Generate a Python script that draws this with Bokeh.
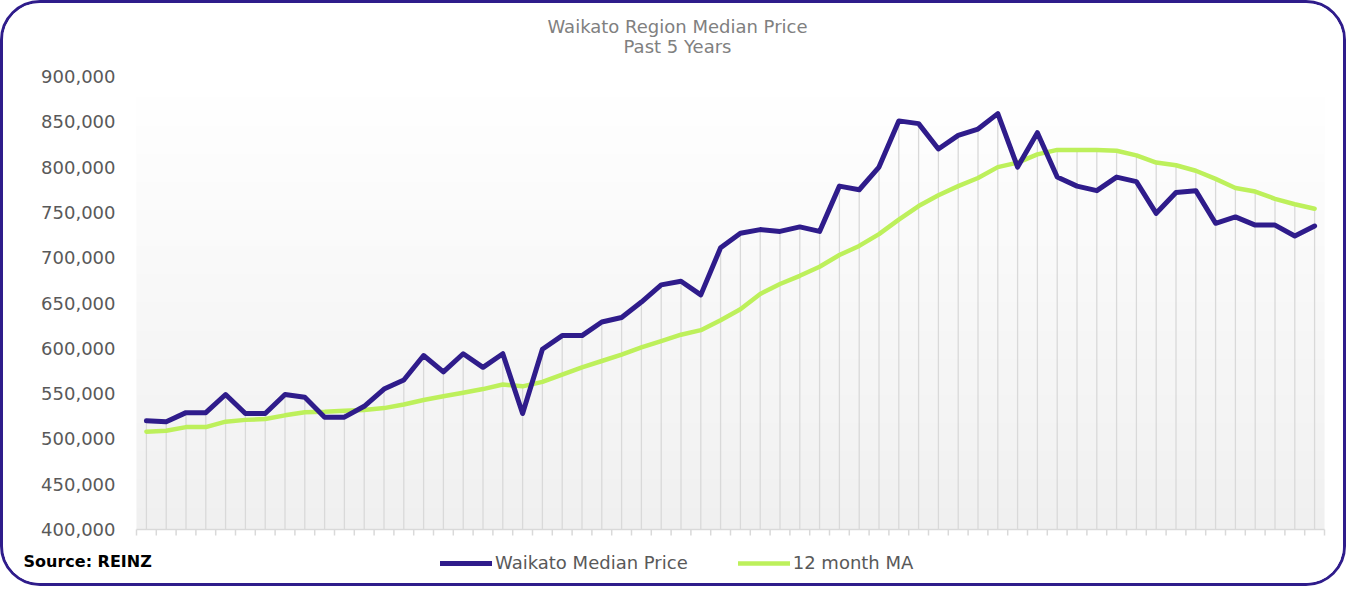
import numpy as np
from bokeh.plotting import figure
from bokeh.models import Range1d, Legend, LegendItem, Label, ColumnDataSource
from bokeh.embed import file_html
from bokeh.resources import INLINE

# ---- data (NZD) ----
median_price = [520000, 519000, 529000, 529000, 549000, 528000, 528000, 549000, 546000, 524000, 524000, 536000,
                555000, 565000, 592000, 574000, 594000, 579000, 594000, 528000, 599000, 614000, 614000, 629000,
                634000, 651000, 670000, 674000, 659000, 711000, 727000, 731000, 729000, 734000, 729000, 779000,
                775000, 800000, 851000, 848000, 820000, 835000, 842000, 859000, 800000, 838000, 789000, 779000,
                774000, 789000, 784000, 749000, 772000, 774000, 738000, 745000, 736000, 736000, 724000, 735000]
ma12 = [508000, 509000, 513000, 513000, 519000, 521000, 522000, 526000, 529500, 530000, 531000, 532000,
        534000, 538000, 543000, 547000, 551000, 555000, 560000, 558000, 563000, 571000, 579000, 586000,
        593000, 601000, 608000, 615000, 620000, 631000, 643000, 660000, 671000, 680000, 690000, 703000,
        713000, 726000, 742000, 757000, 769000, 779000, 788000, 800000, 805000, 814000, 819000, 819000,
        819000, 818000, 813000, 805000, 802000, 796000, 787000, 777000, 773000, 765000, 759000, 754000]
y_ticks = [400000, 450000, 500000, 550000, 600000, 650000, 700000, 750000, 800000, 850000, 900000]
y_tick_labels = ["400,000", "450,000", "500,000", "550,000", "600,000", "650,000",
                 "700,000", "750,000", "800,000", "850,000", "900,000"]
series_names = ["Waikato Median Price", "12 month MA"]
title_lines = ["Waikato Region Median Price", "Past 5 Years"]
source_text = "Source: REINZ"

n = len(median_price)
idx = list(range(n))
top = [max(a, b) for a, b in zip(median_price, ma12)]

PURPLE = "#2f1c8b"
GREEN = "#bdf05b"
FONT = "DejaVu Sans"

# canvas geometry (px): plot area box inside the card
W, H = 1346, 586
PL, PR, PT, PB = 133, 1321, 73, 526
x_lo, x_hi = -0.5, n - 0.5
y_lo, y_hi = y_ticks[0], y_ticks[-1]
ux = (x_hi - x_lo) / (PR - PL)          # data units per px
uy = (y_hi - y_lo) / (PB - PT)

p = figure(width=W, height=H, output_backend="svg", toolbar_location=None,
           x_range=Range1d(x_lo - PL * ux, x_hi + (W - PR) * ux),
           y_range=Range1d(y_lo - (H - PB) * uy, y_hi + PT * uy),
           x_axis_location=None, y_axis_location=None,
           min_border_left=0, min_border_right=0, min_border_top=0, min_border_bottom=0)
p.outline_line_color = None
p.background_fill_color = "white"
p.border_fill_color = "white"
p.xgrid.visible = False
p.ygrid.visible = False
p.styles = {"border": "3px solid " + PURPLE, "border-radius": "40px", "box-sizing": "border-box",
            "overflow": "hidden"}

# gradient plot-area background
rows = 64
img = np.zeros((rows, 1), dtype=np.uint32)
view = img.view(dtype=np.uint8).reshape((rows, 1, 4))
for r in range(rows):
    t = r / (rows - 1)
    c = int(round(240 + (255 - 240) * t))
    view[r, 0, :] = [c, c, c, 255]
p.image_rgba(image=[img], x=x_lo, y=y_lo, dw=x_hi - x_lo, dh=y_hi - y_lo)

# category axis: baseline + boundary ticks
bounds = [i - 0.5 for i in range(n + 1)]
p.segment(x0=bounds, y0=[y_lo] * len(bounds), x1=bounds, y1=[y_lo - 6 * uy] * len(bounds),
          line_color="#d9d9d9", line_width=1.5)
p.segment(x0=[x_lo], y0=[y_lo], x1=[x_hi], y1=[y_lo], line_color="#d9d9d9", line_width=1.5)

# value axis labels
p.text(x=[x_lo] * len(y_ticks), y=y_ticks, text=y_tick_labels, x_offset=-21,
       text_align="right", text_baseline="middle", text_font={"value": FONT},
       text_font_size="18px", text_color="#595959")

# drop lines
src = ColumnDataSource(dict(x=idx, y0=[y_lo] * n, y1=top, a=median_price, b=ma12))
p.segment(x0="x", y0="y0", x1="x", y1="y1", source=src, line_color="#d9d9d9", line_width=1.3)

r_ma = p.line("x", "b", source=src, line_color=GREEN, line_width=4.5, line_cap="round", line_join="round")
r_med = p.line("x", "a", source=src, line_color=PURPLE, line_width=5, line_cap="round", line_join="round")

# legend
legend = Legend(items=[LegendItem(label=series_names[0], renderers=[r_med]),
                       LegendItem(label=series_names[1], renderers=[r_ma])],
                orientation="horizontal", location=(437, 16),
                padding=0, margin=0, spacing=50, glyph_width=52, glyph_height=20,
                label_standoff=3, border_line_color=None, background_fill_alpha=0,
                label_text_font=FONT, label_text_font_size="18px", label_text_color="#595959")
p.add_layout(legend, "center")

# title & source (screen px from the canvas' bottom-left)
p.add_layout(Label(x=674, y=H - 23, x_units="screen", y_units="screen", text=title_lines[0],
                   text_align="center", text_baseline="middle", text_font=FONT,
                   text_font_size="18px", text_color="#808080"))
p.add_layout(Label(x=674, y=H - 43, x_units="screen", y_units="screen", text=title_lines[1],
                   text_align="center", text_baseline="middle", text_font=FONT,
                   text_font_size="18px", text_color="#808080"))
p.add_layout(Label(x=20, y=H - 558, x_units="screen", y_units="screen", text=source_text,
                   text_align="left", text_baseline="middle", text_font=FONT,
                   text_font_size="16px", text_font_style="bold", text_color="black"))

open("out.html", "w").write(file_html(p, INLINE))
